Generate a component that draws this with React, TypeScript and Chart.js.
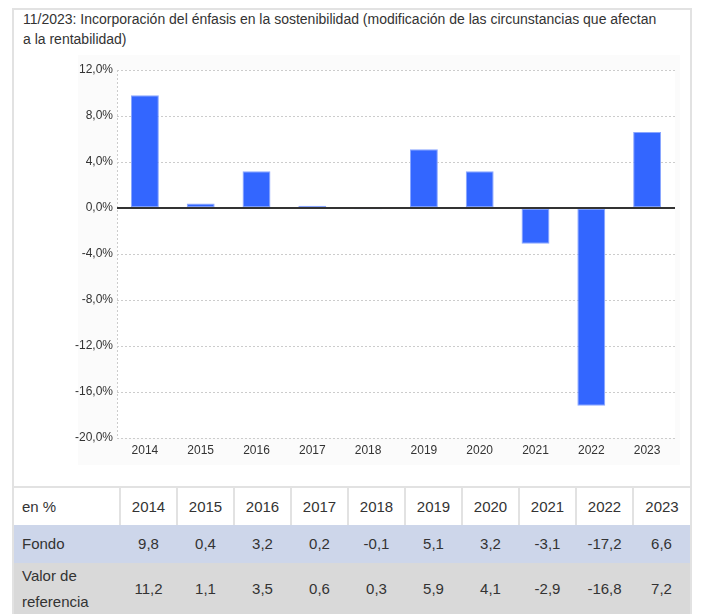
import React, { useEffect, useRef } from "react";
import { Chart, registerables } from "chart.js";

Chart.register(...registerables);

const titleLine1 =
  "11/2023: Incorporación del énfasis en la sostenibilidad (modificación de las circunstancias que afectan";
const titleLine2 = "a la rentabilidad)";

const years = ["2014", "2015", "2016", "2017", "2018", "2019", "2020", "2021", "2022", "2023"];
const fondo = [9.8, 0.4, 3.2, 0.2, -0.1, 5.1, 3.2, -3.1, -17.2, 6.6];
const referencia = [11.2, 1.1, 3.5, 0.6, 0.3, 5.9, 4.1, -2.9, -16.8, 7.2];
const yMin = -20;
const yMax = 12;
const yStep = 4;

const headerLabel = "en %";
const fondoLabel = "Fondo";
const refLabel1 = "Valor de";
const refLabel2 = "referencia";

const fmt = (v: number) => v.toFixed(1).replace(".", ",");

const FONT = '"Liberation Sans", Arial, Helvetica, sans-serif';
const TEXT = "#333333";

export default function App() {
  const canvasRef = useRef<HTMLCanvasElement | null>(null);

  useEffect(() => {
    if (!canvasRef.current) return;
    const zeroLine = {
      id: "zeroLine",
      beforeDraw(chart: any) {
        const { ctx, chartArea } = chart;
        ctx.save();
        ctx.fillStyle = "#ffffff";
        ctx.fillRect(chartArea.left, chartArea.top, chartArea.right - chartArea.left, chartArea.bottom - chartArea.top);
        ctx.restore();
      },
      afterDatasetsDraw(chart: any) {
        const { ctx, chartArea, scales } = chart;
        const y = scales.y.getPixelForValue(0);
        ctx.save();
        ctx.strokeStyle = "#333333";
        ctx.lineWidth = 2;
        ctx.beginPath();
        ctx.moveTo(chartArea.left, y);
        ctx.lineTo(chartArea.right, y);
        ctx.stroke();
        ctx.restore();
      },
    };
    const chart = new Chart(canvasRef.current, {
      type: "bar",
      data: {
        labels: years,
        datasets: [
          {
            label: fondoLabel,
            data: fondo,
            backgroundColor: "#3366ff",
            borderColor: "#8aa6ff",
            borderWidth: 1,
            borderSkipped: false,
            categoryPercentage: 1,
            barPercentage: 0.5,
          },
        ],
      },
      options: {
        animation: false,
        responsive: false,
        maintainAspectRatio: false,
        layout: { padding: { top: 20, right: 15, left: 0, bottom: 0 } },
        plugins: { legend: { display: false }, tooltip: { enabled: false }, title: { display: false } },
        scales: {
          x: {
            offset: true,
            grid: {
              display: true,
              drawTicks: false,
              color: (ctx: any) => (ctx.index === 0 ? "#cccccc" : "rgba(0,0,0,0)"),
              lineWidth: 1,
            },
            border: { display: false, dash: [2, 2] },
            ticks: { color: TEXT, font: { family: FONT, size: 12 }, padding: 5, maxRotation: 0 },
            afterFit: (axis: any) => {
              axis.height = 32;
            },
          },
          y: {
            min: yMin,
            max: yMax,
            grid: { color: "#cccccc", lineWidth: 1, drawTicks: false },
            border: { display: false, dash: [2, 2] },
            ticks: {
              stepSize: yStep,
              color: TEXT,
              font: { family: FONT, size: 12 },
              padding: 4,
              callback: (v: any) => fmt(Number(v)) + "%",
            },
            afterFit: (axis: any) => {
              axis.width = 103;
            },
          },
        },
      },
      plugins: [zeroLine],
    } as any);
    return () => chart.destroy();
  }, []);

  const cellBase: React.CSSProperties = {
    padding: "0 6px",
    height: 38,
    lineHeight: "26px",
    textAlign: "center",
    verticalAlign: "middle",
    boxSizing: "border-box",
  };

  return (
    <div
      style={{
        position: "relative",
        marginLeft: 4,
        width: 676,
        height: 640,
        border: "2px solid #e2e2e2",
        borderBottom: "none",
        fontFamily: FONT,
        color: TEXT,
        background: "#ffffff",
      }}
    >
      <div
        style={{
          position: "absolute",
          left: 9,
          top: -1,
          fontSize: 14,
          lineHeight: "20px",
          whiteSpace: "nowrap",
        }}
      >
        {titleLine1}
        <br />
        {titleLine2}
      </div>
      <div
        style={{
          position: "absolute",
          left: 64,
          top: 45,
          width: 602,
          height: 410,
          background: "#fbfbfb",
        }}
      />
      <canvas
        ref={canvasRef}
        width={676}
        height={420}
        style={{ position: "absolute", left: 0, top: 40, width: 676, height: 420 }}
      />
      <table
        style={{
          position: "absolute",
          left: 0,
          top: 476,
          width: 676,
          borderCollapse: "collapse",
          tableLayout: "fixed",
          fontSize: 15,
          fontFamily: FONT,
          color: TEXT,
        }}
      >
        <colgroup>
          <col style={{ width: 106 }} />
          {years.map((y) => (
            <col key={y} style={{ width: 57 }} />
          ))}
        </colgroup>
        <tbody>
          <tr style={{ background: "#ffffff", borderTop: "2px solid #e2e2e2" }}>
            <td style={{ ...cellBase, textAlign: "left", paddingLeft: 8, borderRight: "2px solid #e2e2e2" }}>
              {headerLabel}
            </td>
            {years.map((y, i) => (
              <td
                key={y}
                style={{ ...cellBase, borderRight: i < years.length - 1 ? "2px solid #e2e2e2" : "none" }}
              >
                {y}
              </td>
            ))}
          </tr>
          <tr style={{ background: "#cdd6ea" }}>
            <td style={{ ...cellBase, textAlign: "left", paddingLeft: 8 }}>{fondoLabel}</td>
            {fondo.map((v, i) => (
              <td key={i} style={cellBase}>
                {fmt(v)}
              </td>
            ))}
          </tr>
          <tr style={{ background: "#d9d9d9" }}>
            <td style={{ ...cellBase, textAlign: "left", paddingLeft: 8, height: 52 }}>
              {refLabel1}
              <br />
              {refLabel2}
            </td>
            {referencia.map((v, i) => (
              <td key={i} style={{ ...cellBase, height: 52 }}>
                {fmt(v)}
              </td>
            ))}
          </tr>
        </tbody>
      </table>
    </div>
  );
}
